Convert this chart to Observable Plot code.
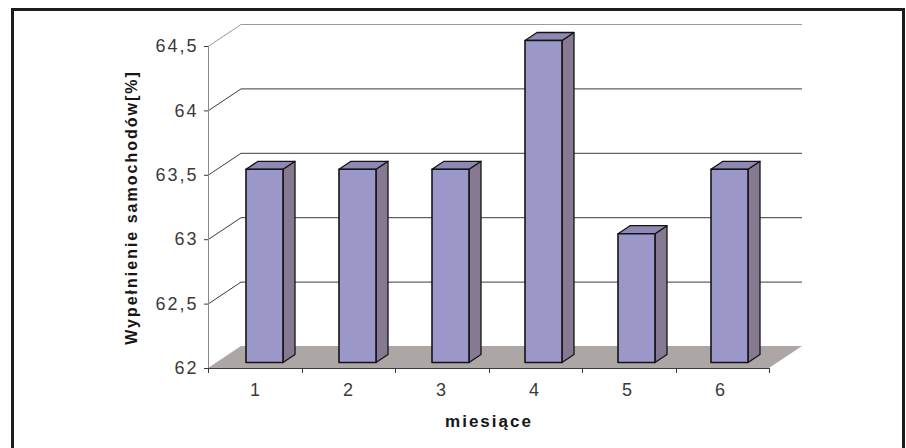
<!DOCTYPE html>
<html>
<head>
<meta charset="utf-8">
<script src="https://cdn.jsdelivr.net/npm/d3@7"></script>
<script src="https://cdn.jsdelivr.net/npm/@observablehq/plot@0.6"></script>
<style>
  html, body { margin: 0; padding: 0; background: #fff; overflow: hidden; }
  #chart { position: relative; width: 906px; height: 448px; overflow: hidden; }
  #chart .border {
    position: absolute; left: 11px; top: 8px; width: 888px; height: 500px;
    border: 3px solid #1c1c1c; pointer-events: none;
  }
</style>
</head>
<body>
<div id="chart"><div class="border"></div></div>
<script>
// Monthly vehicle load factor, %
const months = ["1", "2", "3", "4", "5", "6"];
const fill = [63.5, 63.5, 63.5, 64.5, 63, 63.5];
const yTicks = [62, 62.5, 63, 63.5, 64, 64.5];
const yDomain = [62, 64.5];

const table = months.map((m, i) => ({month: m, base: yDomain[0], value: fill[i]}));

// pseudo-3D geometry (pixels)
const WALL = {dx: 33, dy: -22};     // depth of floor / side wall
const BAR_AT = {dx: 9, dy: -5.5};   // front face of each block, set back into the floor
const BAR_DEPTH = {dx: 12, dy: -8}; // thickness of each block

const comma = d => String(d).replace(".", ",");
const gridColor = t => (t === yDomain[1] ? "#9a9a9a" : "#3c3c3c");

// floor, side wall and the front axis lines
function walls(index, scales, values, dim) {
  const {y} = scales;
  const x0 = dim.marginLeft, x1 = dim.width - dim.marginRight;
  const yb = y(yDomain[0]), yt = y(yDomain[1]);
  const g = d3.create("svg:g");
  g.append("path")
    .attr("d", `M${x0},${yb}L${x1},${yb}L${x1 + WALL.dx},${yb + WALL.dy}L${x0 + WALL.dx},${yb + WALL.dy}Z`)
    .attr("fill", "#aca6a4");
  for (const t of yTicks.slice(1)) {
    g.append("line")
      .attr("x1", x0).attr("y1", y(t) + 0.5)
      .attr("x2", x0 + WALL.dx).attr("y2", y(t) + WALL.dy + 0.5)
      .attr("stroke", gridColor(t)).attr("stroke-width", 1);
  }
  // vertical value axis
  g.append("line")
    .attr("x1", x0 + 0.5).attr("x2", x0 + 0.5).attr("y1", yt).attr("y2", yb)
    .attr("stroke", "#8a8a8a");
  // category axis along the front of the floor
  g.append("line")
    .attr("x1", x0).attr("x2", x1).attr("y1", yb + 0.5).attr("y2", yb + 0.5)
    .attr("stroke", "#3a3a3a");
  // category boundary ticks
  const step = (x1 - x0) / months.length;
  for (let k = 0; k <= months.length; ++k) {
    const xk = Math.round(x0 + k * step) + 0.5;
    g.append("line")
      .attr("x1", xk).attr("x2", xk).attr("y1", yb).attr("y2", yb + 5)
      .attr("stroke", "#3a3a3a");
  }
  return g.node();
}

// side and top faces of each block
function blockFaces(index, scales) {
  const {x, y} = scales;
  const bw = x.bandwidth ? x.bandwidth() : (x(months[1]) - x(months[0])) * 0.4;
  const g = d3.create("svg:g")
    .attr("stroke", "#141414").attr("stroke-width", 1.3).attr("stroke-linejoin", "round");
  table.forEach(d => {
    const l = x(d.month) + BAR_AT.dx, r = l + bw;
    const top = y(d.value) + BAR_AT.dy, bot = y(d.base) + BAR_AT.dy;
    g.append("path")
      .attr("d", `M${r},${bot}L${r},${top}L${r + BAR_DEPTH.dx},${top + BAR_DEPTH.dy}L${r + BAR_DEPTH.dx},${bot + BAR_DEPTH.dy}Z`)
      .attr("fill", "#857a91");
    g.append("path")
      .attr("d", `M${l},${top}L${r},${top}L${r + BAR_DEPTH.dx},${top + BAR_DEPTH.dy}L${l + BAR_DEPTH.dx},${top + BAR_DEPTH.dy}Z`)
      .attr("fill", "#8f88b4");
  });
  return g.node();
}

const chart = Plot.plot({
  width: 906,
  height: 448,
  marginLeft: 208,
  marginRight: 137,
  marginTop: 46,
  marginBottom: 80,
  style: {
    fontFamily: "'Liberation Sans', Arial, sans-serif",
    fontSize: "18px",
    letterSpacing: "2px",
    color: "#3a3a3a",
    background: "transparent"
  },
  x: {
    type: "band",
    domain: months,
    paddingInner: 0.6,
    paddingOuter: 0.3,
    tickSize: 0,
    tickPadding: 15,
    label: null
  },
  y: {
    domain: yDomain,
    ticks: yTicks,
    tickFormat: comma,
    tickSize: 4,
    tickPadding: 6,
    label: null
  },
  marks: [
    walls,
    Plot.ruleY(yTicks.slice(1), {dx: WALL.dx, dy: WALL.dy, stroke: gridColor}),
    blockFaces,
    Plot.barY(table, {
      x: "month", y1: "base", y2: "value",
      dx: BAR_AT.dx, dy: BAR_AT.dy,
      fill: "#9c97c9", stroke: "#141414", strokeWidth: 1.6, strokeLinejoin: "round"
    }),
    Plot.text(["Wypełnienie samochodów[%]"], {
      text: d => d, frameAnchor: "left", textAnchor: "middle", dx: -77, rotate: -90,
      fontSize: 16, fontWeight: "bold", fill: "#161616"
    }),
    Plot.text(["miesiące"], {
      text: d => d, frameAnchor: "bottom", dy: 58,
      fontSize: 17, fontWeight: "bold", fill: "#161616"
    })
  ]
});

document.getElementById("chart").prepend(chart);
</script>
</body>
</html>
